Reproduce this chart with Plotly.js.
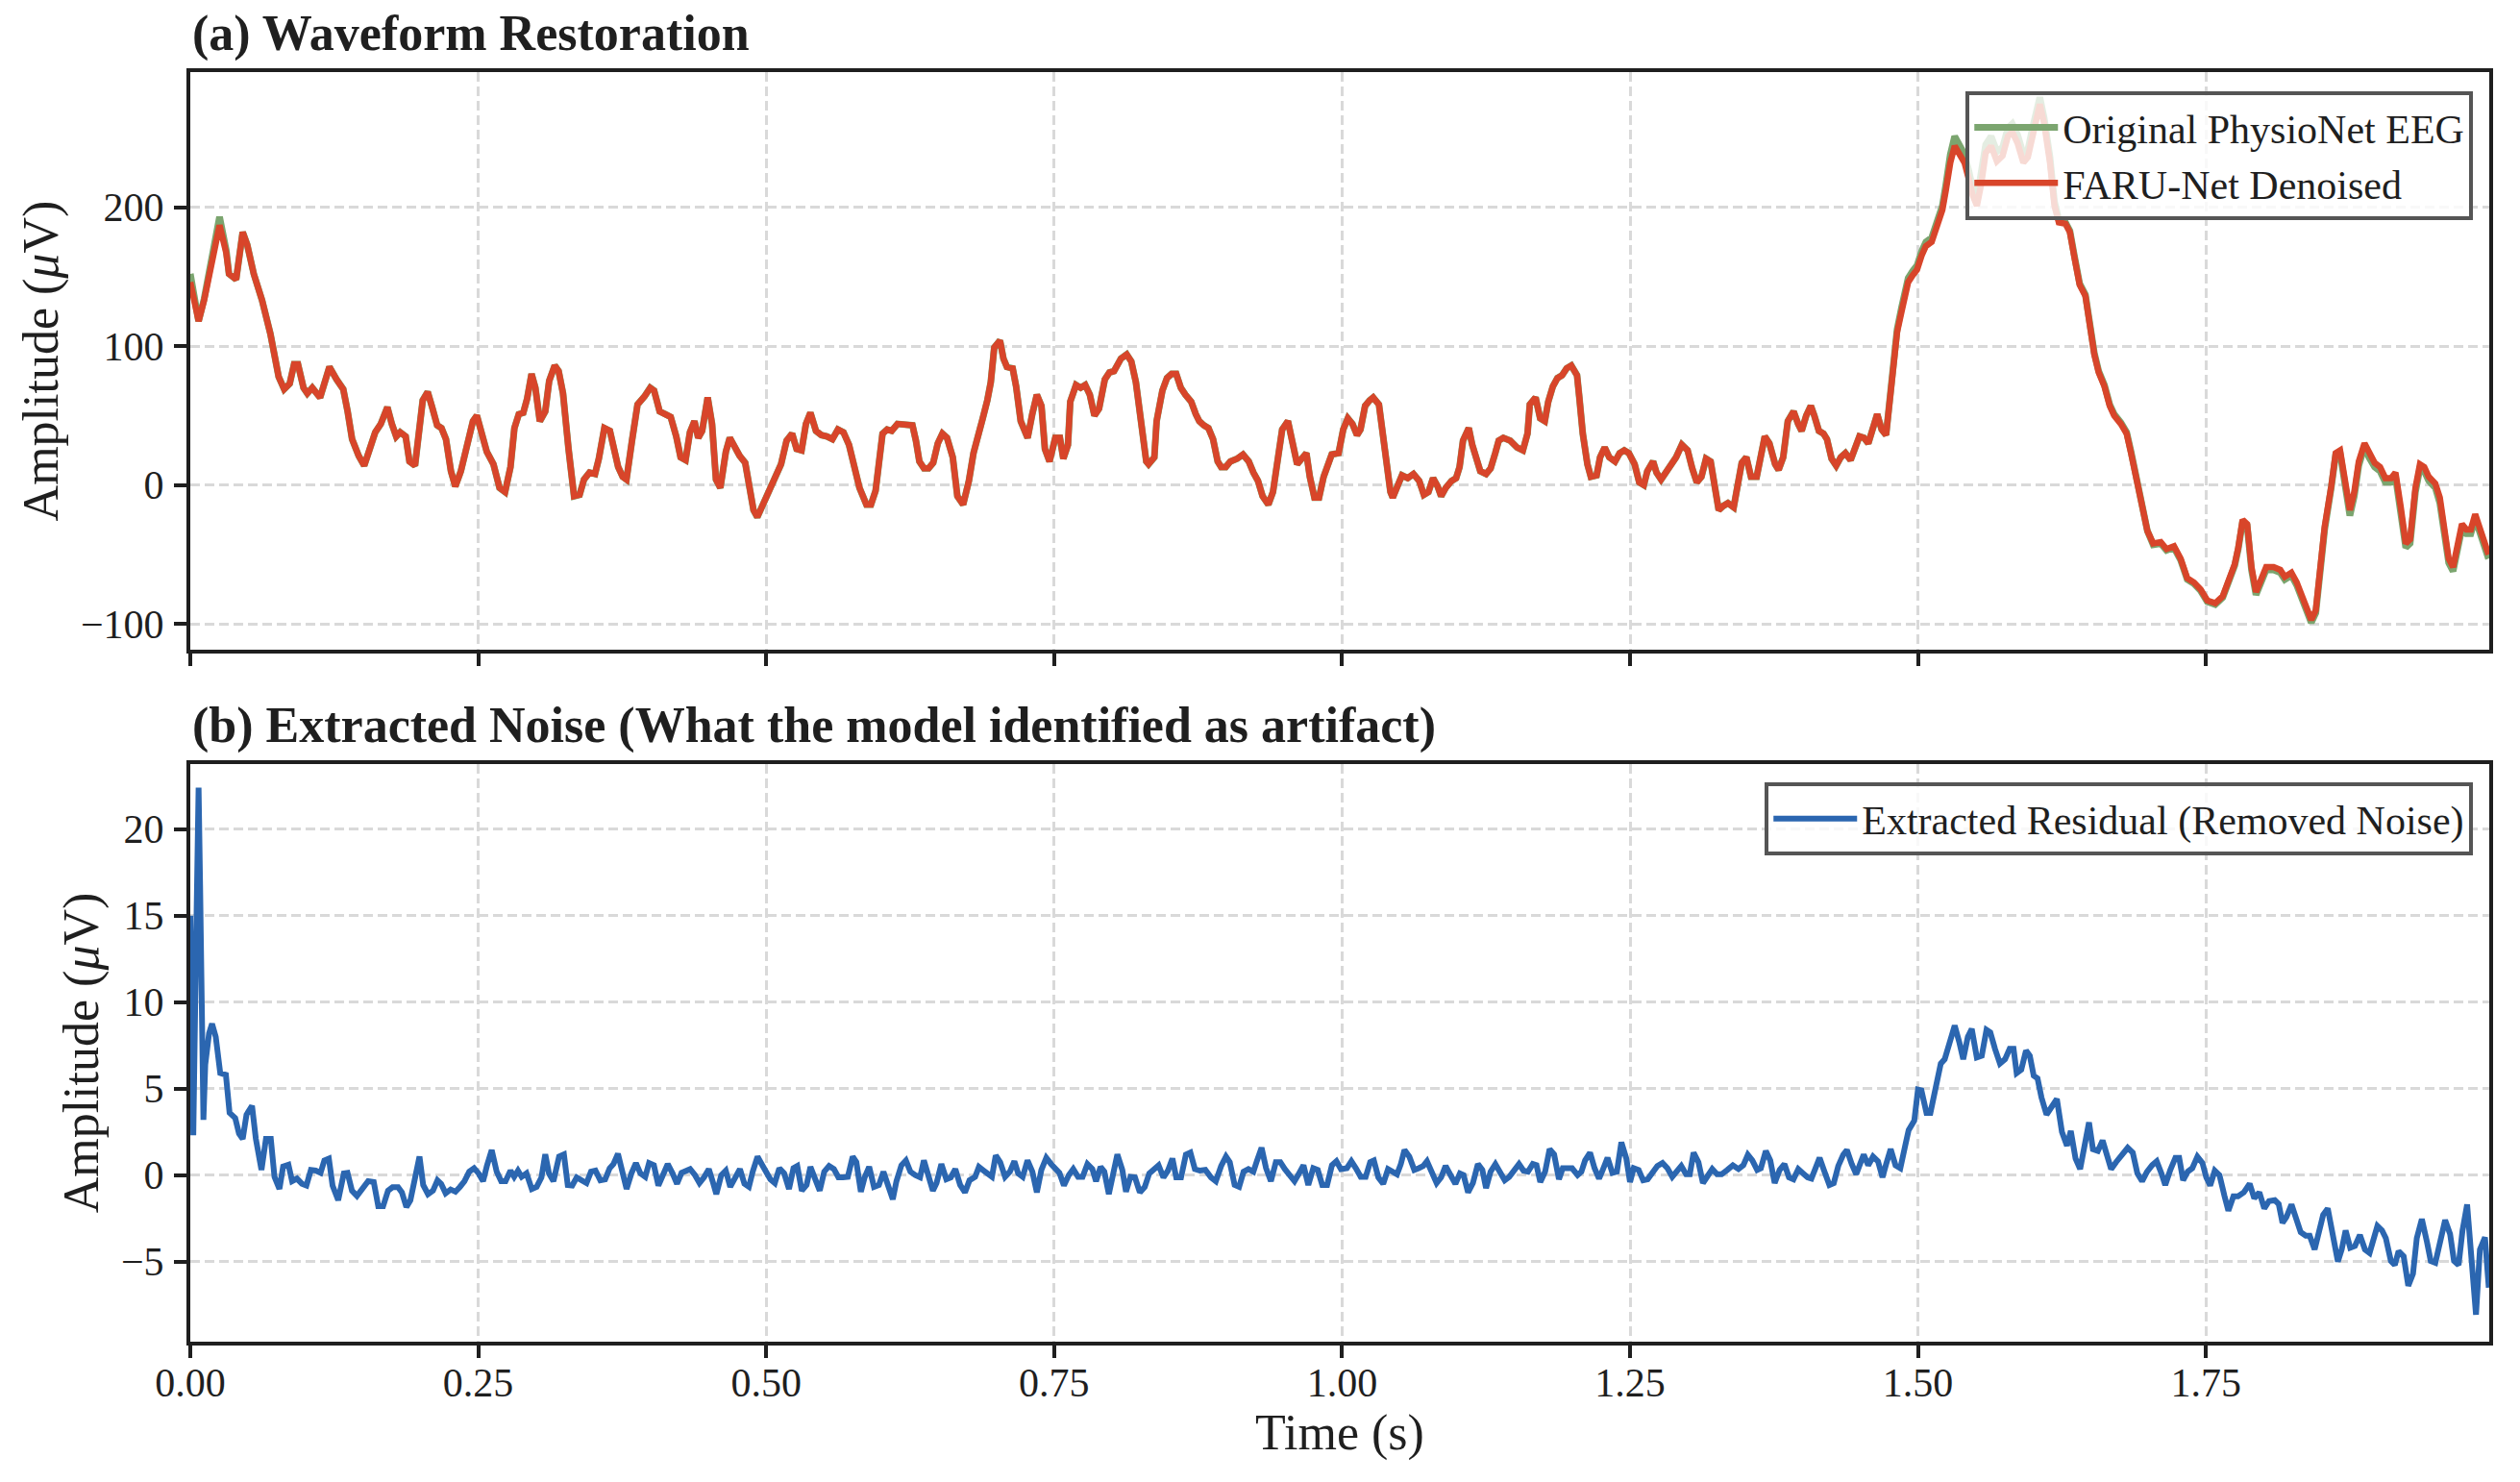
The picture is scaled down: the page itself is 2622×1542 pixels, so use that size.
<!DOCTYPE html>
<html>
<head>
<meta charset="utf-8">
<script src="https://cdn.plot.ly/plotly-3.0.1.min.js"></script>
<style>
  html, body { margin: 0; padding: 0; background: #fff; }
  #chart { width: 2622px; height: 1542px; }
</style>
</head>
<body>
<div id="chart"></div>
<script>
// (a) waveform: time (s) and amplitude (uV)
var tWave = [
  0, .0034, .0072, .012, .0192, .0254, .0312, .0336, .0398, .0455,
  .0494, .0551, .0623, .0695, .0767, .0815, .0863, .0901, .0935, .0983,
  .1016, .1059, .1127, .1208, .127, .1328, .1366, .1405, .1462, .151,
  .1558, .1606, .1654, .1711, .175, .1788, .1822, .187, .1903, .1951,
  .2018, .2061, .21, .2143, .2181, .222, .2263, .2301, .2349, .2407,
  .2454, .2488, .2526, .2574, .2632, .2685, .2733, .278, .2814, .2852,
  .2891, .2924, .2963, .2996, .3035, .3082, .3116, .3164, .3198, .3236,
  .3284, .3332, .338, .3418, .3466, .3514, .3547, .3595, .3643, .3677,
  .3715, .3754, .3787, .3835, .3883, .3945, .3993, .4027, .4075, .4123,
  .4171, .4219, .4257, .43, .4338, .4377, .441, .4444, .4492, .453,
  .4564, .4602, .465, .4684, .4732, .477, .4818, .4856, .489, .4923,
  .4971, .5034, .5082, .5129, .5177, .5225, .5264, .5307, .5345, .5384,
  .5432, .5479, .5527, .5575, .5623, .5671, .5719, .5767,
  .581, .587, .591, .595, .598, .601, .605, .609, .614, .621,
  .627, .630, .633, .637, .641, .645, .649, .653, .657, .662,
  .666, .671, .676, .680, .684, .688, .692, .695, .698, .703,
  .706, .709, .714, .717, .721, .727, .731, .735, .739, .742,
  .746, .751, .755, .758, .762, .764, .769, .773, .777, .781,
  .785, .789, .794, .798, .802, .808, .813, .817, .821, .826,
  .830, .832, .837, .839, .844, .848, .852, .856, .860, .864,
  .869, .873, .876, .880, .884, .888, .892, .895, .899, .903,
  .909, .914, .919, .923, .927, .931, .936, .940, .944, .948,
  .953, .957, .961, .965, .969, .972, .976, .980, .984,
  .991, .997, 1.001, 1.005, 1.009, 1.013, 1.016, 1.020, 1.024, 1.027,
  1.032, 1.035, 1.039, 1.042, 1.044, 1.048, 1.052, 1.057, 1.062, 1.067,
  1.071, 1.075, 1.079, 1.083, 1.086, 1.090, 1.095, 1.099, 1.102, 1.105,
  1.110, 1.113, 1.117, 1.120, 1.125, 1.129, 1.133, 1.136, 1.140, 1.146,
  1.152, 1.157, 1.161, 1.163, 1.168, 1.172, 1.176, 1.179, 1.183, 1.187,
  1.191, 1.195, 1.199, 1.204, 1.206, 1.209, 1.213, 1.216, 1.221, 1.224,
  1.228, 1.232, 1.237, 1.241, 1.245, 1.249, 1.254, 1.258, 1.262, 1.265,
  1.270, 1.273, 1.277, 1.281, 1.285, 1.290, 1.295, 1.300, 1.304, 1.308,
  1.312, 1.316, 1.320, 1.323, 1.327, 1.331, 1.335, 1.340, 1.343, 1.347,
  1.351, 1.355, 1.360, 1.363, 1.367, 1.371, 1.376, 1.379, 1.383, 1.387,
  1.392, 1.396, 1.399, 1.403, 1.407, 1.410, 1.414, 1.418, 1.421, 1.425,
  1.429, 1.433, 1.437,
  1.4415, 1.4492, 1.4531, 1.4569, 1.4646, 1.4685, 1.4723, 1.4773, 1.4819, 1.4858,
  1.4915, 1.4954, 1.4992, 1.5031, 1.5069, 1.5119, 1.5165, 1.5212, 1.5242, 1.5281,
  1.5319, 1.5358, 1.5404, 1.5442, 1.5473, 1.5512, 1.555, 1.5588, 1.5635, 1.5685,
  1.5735, 1.5781, 1.5819, 1.5865, 1.5915, 1.5954, 1.5992, 1.6058, 1.6096, 1.6146,
  1.6185, 1.6223, 1.6281, 1.6319, 1.6358, 1.6404, 1.6454, 1.6492, 1.6531, 1.6569,
  1.6619, 1.6665, 1.6704, 1.6762, 1.6812, 1.685, 1.6896, 1.6942, 1.6992, 1.7042,
  1.7108, 1.7158, 1.7223, 1.7281, 1.7338, 1.7396, 1.7454, 1.7512, 1.7581, 1.7646,
  1.7704, 1.775, 1.7781, 1.7819, 1.7858, 1.7896, 1.7935, 1.7973, 1.8023, 1.8088,
  1.8146, 1.8185, 1.8242, 1.8288, 1.8338, 1.8377, 1.8415, 1.8454, 1.8492, 1.8531,
  1.8588, 1.8627, 1.8665, 1.8704, 1.875, 1.8788, 1.8827, 1.8877, 1.8915, 1.8965,
  1.9012, 1.9058, 1.9108, 1.9146, 1.9192, 1.9235, 1.9273, 1.9319, 1.9358, 1.9396,
  1.9435, 1.9492, 1.9531, 1.9569, 1.9608, 1.9646, 1.9685, 1.9723, 1.9762, 1.98,
  1.9838, 1.9877, 1.9915, 1.9954
];

var denoised = [
  146, 132, 118, 133, 162, 187, 167, 152, 148, 182,
  173, 152, 133, 109, 78, 69, 73, 87, 87, 70,
  66, 70, 63, 85, 76, 69, 53, 33, 21, 14,
  26, 38, 44, 56, 44, 35, 38, 35, 17, 14,
  61, 67, 56, 43, 41, 33, 10, -1, 10, 29,
  46, 50, 38, 24, 15, -2, -5, 13, 41, 51,
  52, 62, 80, 70, 46, 53, 75, 86, 82, 66,
  26, -8, -7, 4, 9, 8, 19, 41, 39, 24,
  13, 6, 4, 32, 58, 64, 70, 68, 53, 51,
  49, 35, 20, 18, 38, 46, 34, 39, 63, 44,
  4, -2, 24, 34, 26, 21, 16, -2, -18, -23,
  -14, -2, 6, 15, 32, 37, 26, 25, 44, 52,
  39, 36, 35, 33, 40, 38, 29, 13,
  -2, -14, -14, -4, 15, 37, 40, 39, 44, 44,
  43, 32, 17, 12, 12, 16, 30, 37, 34, 20,
  -8, -14, 3, 23, 34, 48, 61, 74, 99, 104,
  91, 85, 84, 71, 46, 34, 51, 65, 57, 26,
  17, 34, 34, 19, 29, 60, 72, 70, 72, 65,
  50, 55, 76, 81, 82, 91, 94, 89, 74, 46,
  17, 15, 20, 46, 68, 77, 80, 80, 70, 65,
  60, 51, 46, 43, 41, 33, 17, 13, 13, 17,
  19, 22, 17, 9, 3, -8, -14, -5, 15, 40,
  46, 29, 15, 19, 23, 6, -9, -9, 6,
  22, 23, 40, 48, 44, 36, 40, 57, 61, 63,
  58, 40, 12, -5, -9, -2, 7, 5, 8, 3,
  -7, -5, 5, -1, -8, -2, 3, 5, 13, 32,
  41, 29, 16, 10, 8, 12, 23, 32, 34, 32,
  27, 25, 37, 58, 63, 48, 46, 60, 71, 77,
  79, 84, 86, 79, 63, 37, 15, 6, 7, 20,
  27, 20, 17, 23, 25, 23, 15, 2, 0, 10,
  17, 9, 4, 9, 15, 20, 29, 25, 12, 2,
  6, 19, 17, 1, -18, -15, -13, -16, -2, 16,
  20, 6, 6, 20, 35, 30, 15, 11, 20, 46,
  53, 44, 39, 50, 57, 50, 39, 37, 33, 19,
  14, 20, 23,
  18, 35, 34, 30, 51, 40, 36, 71, 110, 125,
  146, 151, 155, 165, 172, 175, 186, 198, 212, 232,
  244, 239, 232, 220, 209, 201, 217, 239, 244, 233,
  237, 251, 254, 246, 232, 236, 251, 274, 260, 232,
  201, 189, 188, 182, 164, 144, 136, 113, 94, 81,
  71, 57, 50, 44, 37, 23, 3, -16, -33, -42,
  -41, -46, -44, -53, -67, -70, -75, -83, -85, -80,
  -67, -57, -45, -25, -28, -59, -77, -70, -59, -59,
  -61, -66, -63, -70, -81, -90, -97, -90, -59, -30,
  -1, 23, 25, 6, -18, -5, 17, 30, 23, 16,
  13, 5, 5, 9, -16, -42, -39, -2, 15, 13,
  6, 1, -9, -28, -53, -59, -45, -28, -32, -32,
  -21, -31, -40, -50
];

var original = [
  152, 136, 118, 134, 166, 193, 169, 152, 148, 182,
  173, 152, 133, 109, 78, 69, 73, 87, 87, 70,
  66, 70, 63, 85, 76, 69, 53, 33, 21, 14,
  26, 38, 44, 56, 44, 35, 38, 35, 17, 14,
  61, 67, 56, 43, 41, 33, 10, -1, 10, 29,
  46, 50, 38, 24, 15, -2, -5, 13, 41, 51,
  52, 62, 80, 70, 46, 53, 75, 86, 82, 66,
  26, -8, -7, 4, 9, 8, 19, 41, 39, 24,
  13, 6, 4, 32, 58, 64, 70, 68, 53, 51,
  49, 35, 20, 18, 38, 46, 34, 39, 63, 44,
  4, -2, 24, 34, 26, 21, 16, -2, -18, -23,
  -14, -2, 6, 15, 32, 37, 26, 25, 44, 52,
  39, 36, 35, 33, 40, 38, 29, 13,
  -2, -14, -14, -4, 15, 37, 40, 39, 44, 44,
  43, 32, 17, 12, 12, 16, 30, 37, 34, 20,
  -8, -14, 3, 23, 34, 48, 61, 74, 99, 104,
  91, 85, 84, 71, 46, 34, 51, 65, 57, 26,
  17, 34, 34, 19, 29, 60, 72, 70, 72, 65,
  50, 55, 76, 81, 82, 91, 94, 89, 74, 46,
  17, 15, 20, 46, 68, 77, 80, 80, 70, 65,
  60, 51, 46, 43, 41, 33, 17, 13, 13, 17,
  19, 22, 17, 9, 3, -8, -14, -5, 15, 40,
  46, 29, 15, 19, 23, 6, -9, -9, 6,
  22, 23, 40, 48, 44, 36, 40, 57, 61, 63,
  58, 40, 12, -5, -9, -2, 7, 5, 8, 3,
  -7, -5, 5, -1, -8, -2, 3, 5, 13, 32,
  41, 29, 16, 10, 8, 12, 23, 32, 34, 32,
  27, 25, 37, 58, 63, 48, 46, 60, 71, 77,
  79, 84, 86, 79, 63, 37, 15, 6, 7, 20,
  27, 20, 17, 23, 25, 23, 15, 2, 0, 10,
  17, 9, 4, 9, 15, 20, 29, 25, 12, 2,
  6, 19, 17, 1, -18, -15, -13, -16, -2, 16,
  20, 6, 6, 20, 35, 30, 15, 11, 20, 46,
  53, 44, 39, 50, 57, 50, 39, 37, 33, 19,
  14, 20, 23,
  18, 35, 34, 30, 51, 40, 36, 72, 112, 128,
  149, 154, 158, 168, 175, 178, 189, 201, 216, 238,
  251, 246, 238, 226, 214, 206, 223, 245, 251, 240,
  243, 257, 260, 252, 238, 241, 256, 279, 264, 236,
  204, 191, 189, 183, 165, 145, 137, 114, 95, 82,
  72, 58, 51, 45, 38, 24, 4, -15, -33, -43,
  -42, -47, -45, -54, -68, -71, -76, -84, -86, -81,
  -68, -58, -46, -26, -29, -61, -79, -72, -61, -61,
  -63, -68, -65, -72, -83, -92, -99, -92, -61, -32,
  -2, 22, 23, 3, -22, -8, 14, 28, 20, 13,
  10, 2, 2, 6, -20, -45, -42, -5, 12, 10,
  3, -2, -13, -32, -56, -62, -48, -31, -35, -35,
  -24, -35, -44, -53
];

// (b) extracted residual: time (s) and amplitude (uV)
var tNoise = [
  0, .0026, .0049, .0072, .0085, .0098, .0104, .0114,
  .013, .0163, .0189, .0221, .026, .0309, .0341, .039, .0423, .0455,
  .0488, .0536, .0569, .0618, .0657, .0699, .0731, .0774, .0806, .0852,
  .0884, .0926, .0969, .1008, .1047, .1089, .1131, .1164, .1203, .1235,
  .1284, .1333, .1365, .1404, .1447, .1495, .1544, .1593, .1632, .1674,
  .1717, .1756, .1804, .1837, .1876, .1911, .1951, .199, .2022, .2064,
  .2107, .2146, .2178, .2217, .226, .2302, .2341, .238, .2422, .2464,
  .2503, .2542, .2575, .2617, .266, .2699, .2737, .278, .2812, .2845,
  .2877, .2919, .2965, .3007, .3049, .3082, .3114, .3153, .3202, .3244,
  .3277, .3316, .3355, .3397, .344, .3479, .3518, .356, .3602, .3641,
  .3674, .3713, .3755, .3788, .383, .3869, .3908, .395, .3983, .4025,
  .4064, .4103, .4145, .4187, .4226, .4265, .4307, .434, .4382, .4421,
  .446, .4502, .4535, .4567, .461, .4649, .4688, .473, .4772, .4811,
  .485, .4883, .4925, .4967,
  .5036, .5075, .5114, .5156, .5198, .5237, .527, .5309, .5351, .5384,
  .5426, .5465, .5504, .5546, .5588, .5627, .5666, .5709, .5751, .5783,
  .5822, .5855, .5894, .5936, .5979, .6018, .6057, .6099, .6131, .6174,
  .6213, .6252, .6294, .6336, .6369, .6408, .6447, .6479, .6521, .6564,
  .6603, .6642, .6684, .6726, .6765, .6814, .6847, .6889, .6928, .696,
  .6993, .7032, .7074, .7116, .7155, .7188, .7227, .7269, .7311, .735,
  .7389, .7432, .7474, .7513, .7546, .7585, .7627, .7666, .7708, .7747,
  .7789, .7832, .7864, .7903, .7936, .7975, .8017, .8049, .8092, .8124,
  .8163, .8202, .8244, .8287, .8326, .8375, .8407, .8449, .8488, .8527,
  .856, .8602, .8644, .8683, .8722, .8765, .8813, .8862, .8904, .895,
  .8992, .9025, .9067, .9106, .9145, .9187, .923, .9262, .9301, .934,
  .9382, .9425, .9464, .9503, .9545, .9587, .9626, .9665, .9707, .975,
  .9789, .9828, .987, .9912, .9951, .999,
  1.0042, 1.0081, 1.012, 1.0162, 1.0205, 1.0244, 1.0276, 1.0315, 1.0357, 1.0399,
  1.0438, 1.0477, 1.051, 1.0542, 1.0584, 1.0627, 1.0666, 1.0705, 1.0737, 1.0779,
  1.0821, 1.086, 1.0899, 1.0942, 1.0984, 1.1023, 1.1055, 1.1094, 1.1136, 1.1179,
  1.1218, 1.125, 1.1289, 1.1331, 1.1373, 1.1412, 1.1451, 1.1494, 1.1536, 1.1575,
  1.1614, 1.1656, 1.1688, 1.1721, 1.1763, 1.1802, 1.1841, 1.1883, 1.1916, 1.1958,
  1.1997, 1.2045, 1.2078, 1.211, 1.2153, 1.2192, 1.2231, 1.2263, 1.2305, 1.2347,
  1.2386, 1.2425, 1.2468, 1.25, 1.2532, 1.2575, 1.2614, 1.2653, 1.2695, 1.2737,
  1.2782, 1.2825, 1.2867, 1.2906, 1.2945, 1.2987, 1.3019, 1.3052, 1.3094, 1.3133,
  1.3172, 1.3214, 1.3256, 1.3295, 1.3344, 1.3393, 1.3442, 1.3484, 1.3523, 1.3562,
  1.3604, 1.3636, 1.3679, 1.3718, 1.3756, 1.3799, 1.3841, 1.388, 1.3919, 1.3961,
  1.4003, 1.4042, 1.4075, 1.4114, 1.4146, 1.4188, 1.4231, 1.4269, 1.4308, 1.4351,
  1.4383, 1.4425, 1.4464, 1.4497, 1.4529, 1.4568, 1.461, 1.4653, 1.4692, 1.4724,
  1.4763, 1.4805, 1.4847, 1.4886, 1.4919, 1.4968, 1.5,
  1.503, 1.5074, 1.5108, 1.5151, 1.5198, 1.5232, 1.5276, 1.5319, 1.536, 1.5393,
  1.5433, 1.5467, 1.5511, 1.5554, 1.5595, 1.5628, 1.5669, 1.5712, 1.5756, 1.5796,
  1.583, 1.5857, 1.5897, 1.5938, 1.5971, 1.6005, 1.6038, 1.6072, 1.6116, 1.6159,
  1.6206, 1.625, 1.6294, 1.6327, 1.6368, 1.6408, 1.6452, 1.6485, 1.6519, 1.6562,
  1.6603, 1.6643, 1.6677, 1.672, 1.6771, 1.6821, 1.6865, 1.6905, 1.6946, 1.6989,
  1.7033, 1.7073, 1.7114, 1.7147, 1.7191, 1.7235, 1.7268, 1.7302, 1.7342, 1.7382,
  1.7426, 1.747, 1.7503, 1.7537, 1.7577, 1.7618, 1.7661, 1.7695, 1.7739, 1.7779,
  1.7829, 1.788, 1.792, 1.7964, 1.8007, 1.8048, 1.8098, 1.8132, 1.8165, 1.8199,
  1.8243, 1.8283, 1.8323, 1.8367, 1.8401, 1.8444, 1.8485, 1.8518, 1.8558, 1.8602,
  1.8646, 1.8679, 1.8713, 1.8753, 1.8794, 1.8837, 1.8881, 1.8921, 1.8962, 1.8989,
  1.9029, 1.9062, 1.9106, 1.914, 1.9173, 1.9217, 1.9257, 1.9298, 1.9331, 1.9375,
  1.9419, 1.9452, 1.9492, 1.9533, 1.9577, 1.962, 1.9654, 1.9694, 1.9728, 1.9768,
  1.9802, 1.9845, 1.9879, 1.9923, 1.9956
];

var residual = [
  15, 2.3, 12.8, 22.4, 16.8, 11, 3.2, 3.2,
  6.4, 8.2, 8.75, 8, 5.9, 5.8, 3.6, 3.3, 2.4, 2.1,
  3.5, 4, 2.1, 0.3, 2.1, 2.1, -0.1, -0.8, 0.5, 0.6,
  -0.35, -0.2, -0.5, -0.6, 0.3, 0.26, 0.13, 0.85, 0.96, -0.6,
  -1.45, 0.1, 0.13, -0.9, -1.2, -0.75, -0.35, -0.4, -1.8, -1.8,
  -0.9, -0.7, -0.7, -1, -1.85, -1.45, -0.13, 1.07, -0.57, -1.1,
  -0.9, -0.3, -0.5, -1.05, -0.83, -0.96, -0.68, -0.35, 0.2, 0.4,
  0.1, -0.35, 0.53, 1.45, 0.2, -0.35, -0.35, 0.26, -0.1, 0.26,
  -0.1, 0.1, -0.8, -0.68, -0.13, 1.2, 0.1, -0.35, 1.07, 1.2,
  -0.57, -0.6, -0.13, -0.25, -0.46, 0.2, 0.26, -0.3, -0.25, 0.4,
  0.64, 1.23, 0.2, -0.8, 0.1, 0.7, 0.1, -0.1, 0.7, 0.57,
  -0.6, 0, 0.64, 0.1, -0.5, 0.13, 0.3, 0.35, 0, -0.46,
  -0.13, 0.35, -0.35, -1.1, 0, 0.26, -0.68, -0.13, 0.35, -0.5,
  -0.68, 0.2, 1.07, 0.57,
  -0.24, -0.46, 0.4, 0.1, -0.8, 0.4, 0.53, -0.9, -0.57, 0.48,
  -0.35, -0.9, 0.2, 0.53, 0.35, -0.13, -0.13, -0.1, 1.07, 0.75,
  -0.96, -0.13, 0.48, -0.68, -0.57, 0.2, -0.57, -1.4, -0.35, 0.57,
  0.85, 0.2, 0, -0.13, 0.85, 0, -0.9, -0.46, 0.64, -0.24,
  -0.13, 0.35, -0.57, -1, -0.3, -0.1, 0.48, 0.26, 0.1, -0.1,
  1.14, 0.75, -0.1, 0.2, 0.8, 0.1, -0.1, 0.85, 0.2, -1,
  0.3, 1, 0.64, 0.3, 0.13, -0.6, 0, 0.35, -0.1, -0.1,
  0.64, 0.35, -0.35, 0.48, 0.2, -1.1, 0.2, 1.2, 0.3, -0.96,
  -0.1, -0.13, -1, -0.68, 0.1, 0.35, 0.57, -0.13, 0.26, 0.96,
  -0.13, -0.13, 1.18, 1.3, 0.35, 0.26, 0.3, -0.13, -0.35, 0.53,
  1.07, 0.75, -0.57, -0.68, 0.2, 0.35, 0.2, 0.85, 1.58, 0.4,
  -0.35, 0.75, 0.75, 0.35, 0, -0.35, 0.1, 0.57, -0.57, 0.4,
  0.3, -0.57, -0.57, 0.57, 0.8, 0.35,
  0.4, 0.8, 0.4, -0.1, -0.1, 0.75, 0.85, -0.13, -0.5, 0.35,
  0.2, 0.05, 0.64, 1.45, 1.07, 0.3, 0.4, 0.53, 0.8, 0.2,
  -0.46, -0.13, 0.53, 0, -0.5, 0.1, 0, -1, -0.46, 0.64,
  0.3, -0.75, 0.2, 0.64, 0.13, -0.3, -0.1, 0.3, 0.64, 0.26,
  0.2, 0.64, 0.57, -0.4, 0.2, 1.5, 1.2, -0.24, 0.4, 0.4,
  0.4, 0, 0.2, 0.85, 1.3, 0.4, -0.2, 0.3, 1, 0.13,
  0.2, 1.9, 0.96, -0.4, 0.4, 0.3, -0.3, -0.24, 0.2, 0.53,
  0.7, 0.4, -0.1, 0.26, 0.53, 0.05, 0.05, 1.3, 0.75, -0.46,
  0, 0.35, 0.05, 0.05, 0.3, 0.57, 0.35, 0.57, 1.18, 0.85,
  0.3, 0.4, 1.4, 0.85, -0.46, 0.3, 0.64, -0.13, -0.24, 0.35,
  0.1, -0.13, -0.2, 0.57, 1, 0.2, -0.57, -0.46, 0.53, 1.18,
  1.45, 0.64, 0.05, 0.64, 1.18, 0.57, 1.07, 0.8, -0.13, 0.64,
  1.5, 0.57, 0.4, 1.6, 2.6, 3.15, 4.95,
  4.9, 3.6, 3.6, 4.9, 6.45, 6.7, 7.8, 8.65, 7.65, 6.7,
  8, 8.45, 6.8, 6.9, 8.4, 8.25, 7.3, 6.45, 6.7, 7.3,
  7.3, 5.9, 6.1, 7.2, 6.9, 5.75, 5.6, 4.5, 3.5, 4,
  4.4, 2.5, 1.7, 2.55, 0.96, 0.35, 2.06, 3.05, 1.5, 1.4,
  2, 1.07, 0.35, 0.75, 1.14, 1.58, 1.3, 0.1, -0.35, 0.2,
  0.57, 0.8, 0.1, -0.57, 0.3, 1, 1, -0.3, 0.2, 0.4,
  1.07, 0.7, -0.13, -0.6, 0.26, 0, -1.2, -2.06, -1.23, -1.23,
  -1, -0.5, -1.34, -1, -1.93, -1.5, -1.45, -1.67, -2.76, -2.43,
  -1.7, -2.43, -3.3, -3.5, -3.5, -4.3, -3.2, -2.3, -1.93, -3.64,
  -5, -4.3, -3.2, -4.2, -4.1, -3.46, -4.3, -4.5, -3.6, -2.94,
  -3.2, -3.64, -4.96, -5.2, -4.4, -4.7, -6.4, -5.7, -3.64, -2.54,
  -3.86, -4.96, -5.07, -3.8, -2.6, -3.4, -4.96, -5.2, -3.2, -1.7,
  -4.3, -8.07, -4.3, -3.6, -6.5
];

var xTicks = [0, 0.25, 0.5, 0.75, 1.0, 1.25, 1.5, 1.75];

var serif = 'Liberation Serif, Times New Roman, serif';
var ink = '#1f1f1f';

var data = [
  {
    x: tWave, y: original, type: 'scatter', mode: 'lines',
    name: 'Original PhysioNet EEG',
    line: {color: '#7ba56f', width: 7},
    xaxis: 'x', yaxis: 'y', legend: 'legend'
  },
  {
    x: tWave, y: denoised, type: 'scatter', mode: 'lines',
    name: 'FARU-Net Denoised',
    line: {color: '#d8452a', width: 6.5},
    xaxis: 'x', yaxis: 'y', legend: 'legend'
  },
  {
    x: tNoise, y: residual, type: 'scatter', mode: 'lines',
    name: 'Extracted Residual (Removed Noise)',
    line: {color: '#2b66b0', width: 6},
    xaxis: 'x2', yaxis: 'y2', legend: 'legend2'
  }
];

function axisStyle(extra) {
  var base = {
    showline: true, mirror: true, linecolor: ink, linewidth: 4,
    ticks: 'outside', ticklen: 13, tickwidth: 3.5, tickcolor: ink,
    showgrid: true, gridcolor: '#d9d9d9', gridwidth: 3, griddash: '10px,5px',
    zeroline: false,
    tickfont: {family: serif, size: 42, color: ink}
  };
  for (var k in extra) base[k] = extra[k];
  return base;
}

var labelFont = {family: serif, size: 52, color: ink};

var layout = {
  width: 2622, height: 1542,
  paper_bgcolor: '#ffffff', plot_bgcolor: '#ffffff',
  font: {family: serif, size: 42, color: ink},
  margin: {l: 198, r: 32, t: 75, b: 146, pad: 0},
  xaxis: axisStyle({
    domain: [0, 1], anchor: 'y', range: [0, 1.996],
    tickvals: xTicks, showticklabels: false
  }),
  yaxis: axisStyle({
    domain: [0.545, 1], anchor: 'x', range: [-118.5, 297.2],
    tickvals: [-100, 0, 100, 200], ticklabelstandoff: 2,
    title: {text: 'Amplitude (<i>μ</i>V)', font: labelFont, standoff: 8}
  }),
  xaxis2: axisStyle({
    domain: [0, 1], anchor: 'y2', range: [0, 1.996], matches: 'x',
    tickvals: xTicks, tickformat: '.2f', ticklabelstandoff: -10,
    title: {text: 'Time (s)', font: labelFont, standoff: 4}
  }),
  yaxis2: axisStyle({
    domain: [0, 0.455], anchor: 'x2', range: [-9.63, 23.77],
    tickvals: [-5, 0, 5, 10, 15, 20], ticklabelstandoff: 2,
    title: {text: 'Amplitude (<i>μ</i>V)', font: labelFont, standoff: 8}
  }),
  legend: {
    x: 0.993, xanchor: 'right', y: 0.985, yanchor: 'top',
    bgcolor: 'rgba(255,255,255,0.8)', bordercolor: '#555555', borderwidth: 4,
    itemwidth: 87,
    font: {family: serif, size: 42, color: ink}
  },
  legend2: {
    x: 0.993, xanchor: 'right', y: 0.4406, yanchor: 'top',
    bgcolor: 'rgba(255,255,255,0.8)', bordercolor: '#555555', borderwidth: 4,
    itemwidth: 87,
    font: {family: serif, size: 42, color: ink}
  },
  annotations: [
    {
      text: '<b>(a) Waveform Restoration</b>', xref: 'paper', yref: 'paper',
      x: 0, xanchor: 'left', y: 1.03, yanchor: 'middle', showarrow: false,
      font: {family: serif, size: 52, color: ink}
    },
    {
      text: '<b>(b) Extracted Noise (What the model identified as artifact)</b>', xref: 'paper', yref: 'paper',
      x: 0, xanchor: 'left', y: 0.4855, yanchor: 'middle', showarrow: false,
      font: {family: serif, size: 52, color: ink}
    }
  ]
};

Plotly.newPlot('chart', data, layout, {displayModeBar: false, responsive: false});
</script>
</body>
</html>
